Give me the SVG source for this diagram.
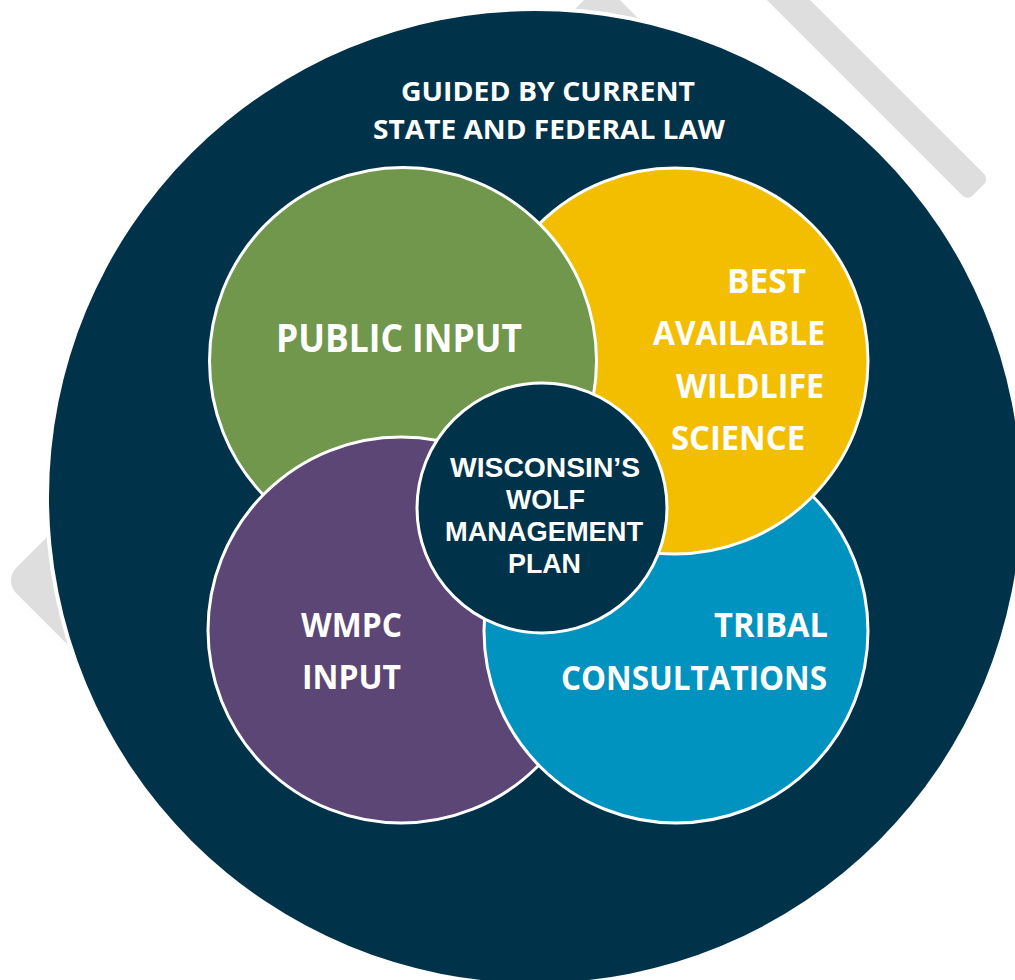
<svg xmlns="http://www.w3.org/2000/svg" width="1015" height="980" viewBox="0 0 1015 980">
  <style>
    .lbl { font-family: "Open Sans", "Liberation Sans", Arial, sans-serif; font-weight: 700; fill: #ffffff; }
    .core { font-family: "Liberation Sans", Arial, sans-serif; font-weight: 700; fill: #ffffff; }
    .ring { stroke: #ffffff; stroke-width: 3; }
    .deco { fill: #dedede; }
  </style>
  <defs>
    <!-- area of the tribal circle, widened a little so its outline is covered too -->
    <clipPath id="cyanArea">
      <circle cx="676" cy="631" r="199"/>
    </clipPath>
  </defs>

  <rect width="1015" height="980" fill="#ffffff"/>

  <!-- grey backdrop shapes, rotated 45 degrees -->
  <g id="backdrop">
    <rect class="deco" x="413" y="-438.4" width="490" height="846.4" rx="18" transform="rotate(45)"/>
    <rect class="deco" x="400" y="-572.8" width="426" height="30.5" rx="7" transform="rotate(45)"/>
  </g>

  <!-- outer frame: law -->
  <g id="law">
    <circle cx="535" cy="497" r="490" fill="#ffffff"/>
    <circle cx="535" cy="497" r="486" fill="#00334a"/>
    <text class="lbl" x="401" y="101" font-size="27.5" textLength="294" lengthAdjust="spacingAndGlyphs">GUIDED BY CURRENT</text>
    <text class="lbl" x="373" y="139" font-size="27.5" textLength="352" lengthAdjust="spacingAndGlyphs">STATE AND FEDERAL LAW</text>
  </g>

  <g id="science">
    <circle class="ring" cx="675" cy="361" r="193" fill="#f4be00"/>
  </g>

  <g id="public">
    <circle class="ring" cx="403" cy="361" r="193.5" fill="#70974c"/>
  </g>

  <g id="wmpc">
    <circle class="ring" cx="401" cy="630" r="193" fill="#5c4675"/>
  </g>

  <g id="tribal">
    <circle class="ring" cx="676" cy="631" r="192" fill="#0093bf"/>
  </g>

  <!-- science circle sits above the tribal circle where they overlap -->
  <g id="science-over-tribal" clip-path="url(#cyanArea)">
    <circle class="ring" cx="675" cy="361" r="193" fill="#f4be00"/>
  </g>

  <g id="plan">
    <circle class="ring" cx="542" cy="508" r="125" fill="#00334a"/>
  </g>

  <g id="labels">
    <text class="lbl" x="276" y="351.7" font-size="39.5" textLength="246" lengthAdjust="spacingAndGlyphs">PUBLIC INPUT</text>

    <text class="lbl" x="727" y="292.7" font-size="34.5" textLength="79" lengthAdjust="spacingAndGlyphs">BEST</text>
    <text class="lbl" x="653" y="345" font-size="34.5" textLength="172" lengthAdjust="spacingAndGlyphs">AVAILABLE</text>
    <text class="lbl" x="676" y="398.3" font-size="34.5" textLength="148" lengthAdjust="spacingAndGlyphs">WILDLIFE</text>
    <text class="lbl" x="671" y="450" font-size="34.5" textLength="134" lengthAdjust="spacingAndGlyphs">SCIENCE</text>

    <text class="lbl" x="301" y="637" font-size="34.5" textLength="101" lengthAdjust="spacingAndGlyphs">WMPC</text>
    <text class="lbl" x="302" y="689" font-size="34.5" textLength="99" lengthAdjust="spacingAndGlyphs">INPUT</text>

    <text class="lbl" x="714" y="637" font-size="34.5" textLength="114" lengthAdjust="spacingAndGlyphs">TRIBAL</text>
    <text class="lbl" x="561" y="690" font-size="34.5" textLength="266" lengthAdjust="spacingAndGlyphs">CONSULTATIONS</text>

    <text class="core" x="450" y="477" font-size="28" textLength="190" lengthAdjust="spacingAndGlyphs">WISCONSIN’S</text>
    <text class="core" x="506" y="509" font-size="28" textLength="79" lengthAdjust="spacingAndGlyphs">WOLF</text>
    <text class="core" x="445" y="541" font-size="28" textLength="198" lengthAdjust="spacingAndGlyphs">MANAGEMENT</text>
    <text class="core" x="508" y="573" font-size="28" textLength="73" lengthAdjust="spacingAndGlyphs">PLAN</text>
  </g>

  <g id="connectors"></g>
</svg>
